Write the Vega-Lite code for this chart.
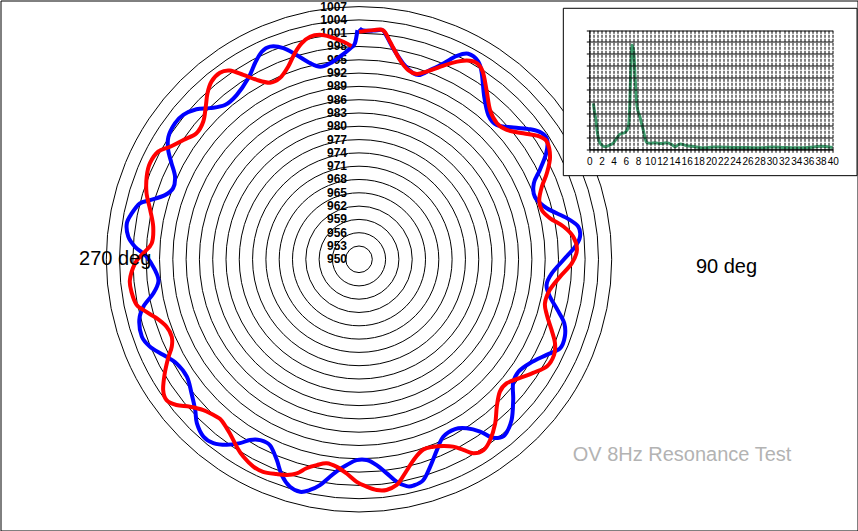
{
  "$schema": "https://vega.github.io/schema/vega-lite/v6.json",
  "width": 857,
  "height": 530,
  "padding": 0.5,
  "autosize": {"type": "none"},
  "background": "white",
  "config": {"font": "Liberation Sans", "view": {"stroke": "black", "strokeWidth": 1, "fill": "white"}},
  "datasets": {
    "rings": [{"ring":950},{"ring":953},{"ring":956},{"ring":959},{"ring":962},{"ring":965},{"ring":968},{"ring":971},{"ring":974},{"ring":977},{"ring":980},{"ring":983},{"ring":986},{"ring":989},{"ring":992},{"ring":995},{"ring":998},{"ring":1001},{"ring":1004},{"ring":1007}],
    "polar": [
      {"series":"Test 1","angle":0.1,"value":1002.1},{"series":"Test 1","angle":1.1,"value":1001.6},{"series":"Test 1","angle":3.6,"value":1001.7},{"series":"Test 1","angle":5.7,"value":1002.0},{"series":"Test 1","angle":6.6,"value":1001.3},{"series":"Test 1","angle":9.2,"value":998.2},{"series":"Test 1","angle":12.7,"value":995.3},{"series":"Test 1","angle":16.3,"value":993.7},{"series":"Test 1","angle":18.3,"value":993.8},{"series":"Test 1","angle":20.6,"value":995.6},{"series":"Test 1","angle":23.3,"value":998.1},{"series":"Test 1","angle":25.7,"value":1000.9},{"series":"Test 1","angle":28.0,"value":1002.5},{"series":"Test 1","angle":31.1,"value":1002.1},{"series":"Test 1","angle":33.4,"value":1000.3},{"series":"Test 1","angle":37.6,"value":996.3},{"series":"Test 1","angle":41.9,"value":993.7},{"series":"Test 1","angle":45.7,"value":993.4},{"series":"Test 1","angle":49.5,"value":995.8},{"series":"Test 1","angle":52.8,"value":998.5},{"series":"Test 1","angle":55.3,"value":1000.1},{"series":"Test 1","angle":57.6,"value":1000.3},{"series":"Test 1","angle":60.5,"value":998.5},{"series":"Test 1","angle":63.7,"value":995.5},{"series":"Test 1","angle":66.5,"value":993.0},{"series":"Test 1","angle":70.5,"value":992.1},{"series":"Test 1","angle":74.8,"value":993.9},{"series":"Test 1","angle":78.8,"value":997.8},{"series":"Test 1","angle":81.5,"value":1000.0},{"series":"Test 1","angle":84.2,"value":1000.1},{"series":"Test 1","angle":86.7,"value":998.8},{"series":"Test 1","angle":90.2,"value":996.1},{"series":"Test 1","angle":94.2,"value":993.6},{"series":"Test 1","angle":97.8,"value":992.7},{"series":"Test 1","angle":101.1,"value":993.9},{"series":"Test 1","angle":104.3,"value":996.2},{"series":"Test 1","angle":107.3,"value":998.5},{"series":"Test 1","angle":110.6,"value":999.6},{"series":"Test 1","angle":113.9,"value":999.6},{"series":"Test 1","angle":117.0,"value":997.5},{"series":"Test 1","angle":121.3,"value":995.1},{"series":"Test 1","angle":125.2,"value":994.0},{"series":"Test 1","angle":128.8,"value":994.6},{"series":"Test 1","angle":132.4,"value":997.1},{"series":"Test 1","angle":136.5,"value":1000.0},{"series":"Test 1","angle":140.3,"value":1001.5},{"series":"Test 1","angle":142.4,"value":1000.9},{"series":"Test 1","angle":143.6,"value":999.7},{"series":"Test 1","angle":144.9,"value":997.5},{"series":"Test 1","angle":147.5,"value":995.2},{"series":"Test 1","angle":150.5,"value":994.0},{"series":"Test 1","angle":154.6,"value":994.3},{"series":"Test 1","angle":157.8,"value":996.5},{"series":"Test 1","angle":161.1,"value":999.5},{"series":"Test 1","angle":163.8,"value":1001.9},{"series":"Test 1","angle":166.5,"value":1002.5},{"series":"Test 1","angle":168.1,"value":1002.3},{"series":"Test 1","angle":170.4,"value":1000.9},{"series":"Test 1","angle":172.6,"value":998.7},{"series":"Test 1","angle":175.1,"value":996.6},{"series":"Test 1","angle":177.8,"value":995.3},{"series":"Test 1","angle":180.7,"value":995.3},{"series":"Test 1","angle":183.4,"value":996.5},{"series":"Test 1","angle":185.6,"value":997.8},{"series":"Test 1","angle":187.6,"value":999.5},{"series":"Test 1","angle":189.8,"value":1001.7},{"series":"Test 1","angle":192.0,"value":1003.2},{"series":"Test 1","angle":194.2,"value":1004.1},{"series":"Test 1","angle":196.9,"value":1003.6},{"series":"Test 1","angle":199.7,"value":1001.7},{"series":"Test 1","angle":202.3,"value":998.9},{"series":"Test 1","angle":205.6,"value":996.5},{"series":"Test 1","angle":208.7,"value":996.5},{"series":"Test 1","angle":211.1,"value":997.6},{"series":"Test 1","angle":212.9,"value":999.4},{"series":"Test 1","angle":215.5,"value":1001.4},{"series":"Test 1","angle":218.4,"value":1002.9},{"series":"Test 1","angle":221.3,"value":1003.2},{"series":"Test 1","angle":224.7,"value":1002.0},{"series":"Test 1","angle":227.4,"value":1000.2},{"series":"Test 1","angle":231.3,"value":998.4},{"series":"Test 1","angle":235.7,"value":997.0},{"series":"Test 1","angle":240.3,"value":997.4},{"series":"Test 1","angle":243.9,"value":999.1},{"series":"Test 1","angle":247.3,"value":1001.1},{"series":"Test 1","angle":250.4,"value":1002.0},{"series":"Test 1","angle":254.6,"value":1001.4},{"series":"Test 1","angle":257.6,"value":999.8},{"series":"Test 1","angle":260.6,"value":997.0},{"series":"Test 1","angle":263.8,"value":995.5},{"series":"Test 1","angle":267.0,"value":996.1},{"series":"Test 1","angle":270.7,"value":997.9},{"series":"Test 1","angle":273.2,"value":1000.6},{"series":"Test 1","angle":275.6,"value":1002.3},{"series":"Test 1","angle":278.8,"value":1003.0},{"series":"Test 1","angle":281.4,"value":1002.3},{"series":"Test 1","angle":284.3,"value":1001.0},{"series":"Test 1","angle":285.8,"value":999.0},{"series":"Test 1","angle":288.3,"value":996.1},{"series":"Test 1","angle":290.9,"value":994.9},{"series":"Test 1","angle":294.2,"value":995.5},{"series":"Test 1","angle":297.1,"value":997.5},{"series":"Test 1","angle":299.8,"value":999.6},{"series":"Test 1","angle":302.7,"value":1001.1},{"series":"Test 1","angle":306.5,"value":1001.6},{"series":"Test 1","angle":309.4,"value":1001.3},{"series":"Test 1","angle":312.7,"value":999.9},{"series":"Test 1","angle":315.4,"value":997.9},{"series":"Test 1","angle":319.0,"value":996.1},{"series":"Test 1","angle":323.3,"value":996.2},{"series":"Test 1","angle":328.6,"value":997.9},{"series":"Test 1","angle":332.1,"value":1000.1},{"series":"Test 1","angle":334.9,"value":1001.7},{"series":"Test 1","angle":337.3,"value":1002.0},{"series":"Test 1","angle":340.3,"value":1000.6},{"series":"Test 1","angle":343.0,"value":998.2},{"series":"Test 1","angle":346.0,"value":995.6},{"series":"Test 1","angle":348.6,"value":994.3},{"series":"Test 1","angle":351.6,"value":994.7},{"series":"Test 1","angle":354.6,"value":995.9},{"series":"Test 1","angle":357.6,"value":997.6},{"series":"Test 1","angle":358.9,"value":998.7},{"series":"Test 1","angle":359.6,"value":1001.7},
      {"series":"Test 2","angle":0.0,"value":1001.3},{"series":"Test 2","angle":3.6,"value":1001.8},{"series":"Test 2","angle":6.1,"value":1001.9},{"series":"Test 2","angle":8.1,"value":999.6},{"series":"Test 2","angle":11.6,"value":995.9},{"series":"Test 2","angle":14.6,"value":994.1},{"series":"Test 2","angle":17.3,"value":993.8},{"series":"Test 2","angle":19.8,"value":995.0},{"series":"Test 2","angle":22.8,"value":997.1},{"series":"Test 2","angle":25.6,"value":999.2},{"series":"Test 2","angle":28.5,"value":1001.0},{"series":"Test 2","angle":31.0,"value":1001.6},{"series":"Test 2","angle":33.4,"value":1000.7},{"series":"Test 2","angle":37.0,"value":997.8},{"series":"Test 2","angle":41.3,"value":994.8},{"series":"Test 2","angle":45.4,"value":993.7},{"series":"Test 2","angle":48.8,"value":994.3},{"series":"Test 2","angle":52.5,"value":996.7},{"series":"Test 2","angle":55.5,"value":999.1},{"series":"Test 2","angle":57.9,"value":1000.0},{"series":"Test 2","angle":61.8,"value":998.9},{"series":"Test 2","angle":65.4,"value":996.6},{"series":"Test 2","angle":68.3,"value":994.4},{"series":"Test 2","angle":71.8,"value":992.8},{"series":"Test 2","angle":74.9,"value":992.7},{"series":"Test 2","angle":77.9,"value":994.1},{"series":"Test 2","angle":80.9,"value":996.7},{"series":"Test 2","angle":84.0,"value":998.6},{"series":"Test 2","angle":87.6,"value":999.2},{"series":"Test 2","angle":91.1,"value":998.0},{"series":"Test 2","angle":95.0,"value":995.5},{"series":"Test 2","angle":99.1,"value":993.6},{"series":"Test 2","angle":103.3,"value":993.1},{"series":"Test 2","angle":106.5,"value":994.2},{"series":"Test 2","angle":110.2,"value":996.3},{"series":"Test 2","angle":113.2,"value":998.1},{"series":"Test 2","angle":116.1,"value":999.0},{"series":"Test 2","angle":119.6,"value":998.8},{"series":"Test 2","angle":123.1,"value":996.9},{"series":"Test 2","angle":126.4,"value":995.1},{"series":"Test 2","angle":130.0,"value":993.5},{"series":"Test 2","angle":133.2,"value":993.6},{"series":"Test 2","angle":136.9,"value":995.5},{"series":"Test 2","angle":140.3,"value":998.1},{"series":"Test 2","angle":144.1,"value":1000.4},{"series":"Test 2","angle":146.9,"value":1001.4},{"series":"Test 2","angle":149.5,"value":1000.8},{"series":"Test 2","angle":151.3,"value":999.0},{"series":"Test 2","angle":153.3,"value":997.3},{"series":"Test 2","angle":155.7,"value":996.2},{"series":"Test 2","angle":158.4,"value":995.5},{"series":"Test 2","angle":161.3,"value":995.3},{"series":"Test 2","angle":164.3,"value":996.6},{"series":"Test 2","angle":167.2,"value":998.8},{"series":"Test 2","angle":168.9,"value":1000.3},{"series":"Test 2","angle":170.5,"value":1001.6},{"series":"Test 2","angle":173.2,"value":1002.4},{"series":"Test 2","angle":175.6,"value":1002.2},{"series":"Test 2","angle":178.1,"value":1001.3},{"series":"Test 2","angle":180.6,"value":1000.2},{"series":"Test 2","angle":183.3,"value":998.4},{"series":"Test 2","angle":186.1,"value":997.1},{"series":"Test 2","angle":189.0,"value":996.6},{"series":"Test 2","angle":191.6,"value":997.4},{"series":"Test 2","angle":194.1,"value":998.6},{"series":"Test 2","angle":196.2,"value":1000.3},{"series":"Test 2","angle":198.5,"value":1001.3},{"series":"Test 2","angle":201.0,"value":1001.9},{"series":"Test 2","angle":204.3,"value":1002.6},{"series":"Test 2","angle":207.0,"value":1002.5},{"series":"Test 2","angle":210.4,"value":1001.6},{"series":"Test 2","angle":213.1,"value":1000.5},{"series":"Test 2","angle":216.6,"value":998.9},{"series":"Test 2","angle":220.3,"value":997.8},{"series":"Test 2","angle":222.1,"value":997.9},{"series":"Test 2","angle":225.9,"value":998.9},{"series":"Test 2","angle":228.9,"value":1000.6},{"series":"Test 2","angle":231.4,"value":1002.7},{"series":"Test 2","angle":233.8,"value":1003.8},{"series":"Test 2","angle":236.3,"value":1003.1},{"series":"Test 2","angle":239.6,"value":1000.8},{"series":"Test 2","angle":242.6,"value":998.5},{"series":"Test 2","angle":245.0,"value":996.6},{"series":"Test 2","angle":247.6,"value":995.7},{"series":"Test 2","angle":250.7,"value":996.0},{"series":"Test 2","angle":253.7,"value":997.5},{"series":"Test 2","angle":256.8,"value":1000.0},{"series":"Test 2","angle":258.4,"value":1001.2},{"series":"Test 2","angle":261.5,"value":1001.8},{"series":"Test 2","angle":264.8,"value":1001.9},{"series":"Test 2","angle":269.0,"value":1000.5},{"series":"Test 2","angle":271.6,"value":998.7},{"series":"Test 2","angle":274.4,"value":996.9},{"series":"Test 2","angle":279.0,"value":997.0},{"series":"Test 2","angle":283.3,"value":998.4},{"series":"Test 2","angle":287.3,"value":1000.2},{"series":"Test 2","angle":291.3,"value":1001.4},{"series":"Test 2","angle":294.7,"value":1001.9},{"series":"Test 2","angle":298.2,"value":1001.4},{"series":"Test 2","angle":300.8,"value":999.6},{"series":"Test 2","angle":304.2,"value":997.9},{"series":"Test 2","angle":307.8,"value":996.4},{"series":"Test 2","angle":311.5,"value":996.9},{"series":"Test 2","angle":314.9,"value":998.8},{"series":"Test 2","angle":317.6,"value":1000.7},{"series":"Test 2","angle":320.3,"value":1002.1},{"series":"Test 2","angle":323.3,"value":1002.5},{"series":"Test 2","angle":325.6,"value":1001.6},{"series":"Test 2","angle":327.9,"value":999.1},{"series":"Test 2","angle":330.3,"value":996.6},{"series":"Test 2","angle":333.3,"value":994.6},{"series":"Test 2","angle":336.4,"value":994.6},{"series":"Test 2","angle":339.8,"value":996.3},{"series":"Test 2","angle":342.7,"value":998.7},{"series":"Test 2","angle":345.1,"value":1000.4},{"series":"Test 2","angle":347.6,"value":1001.4},{"series":"Test 2","angle":350.1,"value":1001.4},{"series":"Test 2","angle":352.6,"value":1000.6},{"series":"Test 2","angle":355.9,"value":999.2},{"series":"Test 2","angle":358.0,"value":998.1}
    ],
    "spectrum": [
      {"freq":0.67,"amp":3.85},{"freq":0.9,"amp":3.0},{"freq":1.1,"amp":2.4},{"freq":1.3,"amp":1.5},{"freq":1.5,"amp":0.9},{"freq":1.8,"amp":0.5},{"freq":2.1,"amp":0.33},{"freq":2.6,"amp":0.22},{"freq":3.4,"amp":0.36},{"freq":3.9,"amp":0.5},{"freq":4.5,"amp":0.92},{"freq":5.0,"amp":1.25},{"freq":5.9,"amp":1.42},{"freq":6.4,"amp":1.85},{"freq":6.6,"amp":3.0},{"freq":6.8,"amp":6.3},{"freq":7.0,"amp":8.75},{"freq":7.3,"amp":8.2},{"freq":7.55,"amp":5.8},{"freq":7.85,"amp":3.6},{"freq":8.3,"amp":2.75},{"freq":8.85,"amp":1.65},{"freq":9.4,"amp":0.6},{"freq":10.0,"amp":0.5},{"freq":10.8,"amp":0.55},{"freq":11.6,"amp":0.48},{"freq":12.7,"amp":0.55},{"freq":13.5,"amp":0.42},{"freq":14.1,"amp":0.22},{"freq":14.9,"amp":0.45},{"freq":16.0,"amp":0.3},{"freq":17.4,"amp":0.22},{"freq":18.7,"amp":0.12},{"freq":20.4,"amp":0.2},{"freq":22,"amp":0.18},{"freq":24,"amp":0.15},{"freq":26,"amp":0.15},{"freq":28,"amp":0.12},{"freq":30,"amp":0.2},{"freq":32,"amp":0.15},{"freq":34,"amp":0.12},{"freq":36,"amp":0.15},{"freq":38,"amp":0.25},{"freq":40,"amp":0.15}
    ],
    "notes": [
      {"label": "270 deg", "kind": "axis"},
      {"label": "90 deg", "kind": "axis"},
      {"label": "OV 8Hz Resonance Test", "kind": "title"}
    ]
  },
  "resolve": {"scale": {"x": "independent", "y": "independent"}, "axis": {"x": "independent", "y": "independent"}},
  "layer": [
    {
      "layer": [
        {
          "data": {"name": "rings"},
          "mark": {"type": "arc", "theta": 0, "theta2": 6.3, "fill": "transparent", "stroke": "black", "strokeWidth": 1},
          "encoding": {
            "x": {"datum": 0, "type": "quantitative", "scale": {"domain": [-80.87, 112.45], "nice": false, "zero": false}, "axis": null},
            "y": {"datum": 0, "type": "quantitative", "scale": {"domain": [-61.18, 58.38], "nice": false, "zero": false}, "axis": null},
            "radius": {"field": "ring", "type": "quantitative", "scale": {"type": "linear", "domain": [950, 1007], "range": [0, 252.7], "zero": false, "nice": false}},
            "radius2": {"datum": 950}
          }
        },
        {
          "data": {"name": "rings"},
          "mark": {"type": "text", "align": "right", "baseline": "middle", "dx": -12, "fontSize": 12, "fontWeight": "bold", "color": "black", "theta": 0},
          "encoding": {
            "x": {"datum": 0, "type": "quantitative", "scale": {"domain": [-80.87, 112.45], "nice": false, "zero": false}, "axis": null},
            "y": {"datum": 0, "type": "quantitative", "scale": {"domain": [-61.18, 58.38], "nice": false, "zero": false}, "axis": null},
            "radius": {"field": "ring", "type": "quantitative", "scale": {"type": "linear", "domain": [950, 1007], "range": [0, 252.7], "zero": false, "nice": false}},
            "text": {"field": "ring", "type": "quantitative"}
          }
        },
        {
          "data": {"name": "polar"},
          "transform": [
            {"filter": "datum.series === 'Test 1'"},
            {"calculate": "(datum.value - 950) * sin(datum.angle * PI / 180)", "as": "px"},
            {"calculate": "(datum.value - 950) * cos(datum.angle * PI / 180)", "as": "py"}
          ],
          "mark": {"type": "line", "color": "#0000ff", "strokeWidth": 4, "interpolate": "cardinal"},
          "encoding": {
            "x": {"field": "px", "type": "quantitative", "scale": {"domain": [-80.87, 112.45], "nice": false, "zero": false}, "axis": null},
            "y": {"field": "py", "type": "quantitative", "scale": {"domain": [-61.18, 58.38], "nice": false, "zero": false}, "axis": null},
            "order": {"field": "angle", "type": "quantitative"}
          }
        },
        {
          "data": {"name": "polar"},
          "transform": [
            {"filter": "datum.series === 'Test 2'"},
            {"calculate": "(datum.value - 950) * sin(datum.angle * PI / 180)", "as": "px"},
            {"calculate": "(datum.value - 950) * cos(datum.angle * PI / 180)", "as": "py"}
          ],
          "mark": {"type": "line", "color": "#ff0000", "strokeWidth": 4, "interpolate": "cardinal"},
          "encoding": {
            "x": {"field": "px", "type": "quantitative", "scale": {"domain": [-80.87, 112.45], "nice": false, "zero": false}, "axis": null},
            "y": {"field": "py", "type": "quantitative", "scale": {"domain": [-61.18, 58.38], "nice": false, "zero": false}, "axis": null},
            "order": {"field": "angle", "type": "quantitative"}
          }
        },
        {
          "data": {"name": "notes"},
          "transform": [{"filter": "datum.label === '270 deg'"}],
          "mark": {"type": "text", "fontSize": 20, "align": "center", "baseline": "middle", "color": "black"},
          "encoding": {
            "x": {"datum": -55.0, "type": "quantitative", "scale": {"domain": [-80.87, 112.45], "nice": false, "zero": false}, "axis": null},
            "y": {"datum": 0, "type": "quantitative", "scale": {"domain": [-61.18, 58.38], "nice": false, "zero": false}, "axis": null},
            "text": {"field": "label", "type": "nominal"}
          }
        },
        {
          "data": {"name": "notes"},
          "transform": [{"filter": "datum.label === '90 deg'"}],
          "mark": {"type": "text", "fontSize": 20, "align": "center", "baseline": "middle", "color": "black"},
          "encoding": {
            "x": {"datum": 82.9, "type": "quantitative", "scale": {"domain": [-80.87, 112.45], "nice": false, "zero": false}, "axis": null},
            "y": {"datum": -1.74, "type": "quantitative", "scale": {"domain": [-61.18, 58.38], "nice": false, "zero": false}, "axis": null},
            "text": {"field": "label", "type": "nominal"}
          }
        },
        {
          "data": {"name": "notes"},
          "transform": [{"filter": "datum.kind === 'title'"}],
          "mark": {"type": "text", "fontSize": 20, "align": "center", "baseline": "middle", "color": "#b3b3b3"},
          "encoding": {
            "x": {"datum": 72.86, "type": "quantitative", "scale": {"domain": [-80.87, 112.45], "nice": false, "zero": false}, "axis": null},
            "y": {"datum": -44.15, "type": "quantitative", "scale": {"domain": [-61.18, 58.38], "nice": false, "zero": false}, "axis": null},
            "text": {"field": "label", "type": "nominal"}
          }
        }
      ]
    },
    {
      "data": {"name": "notes"},
      "transform": [{"filter": "datum.kind === 'title'"}],
      "mark": {"type": "rect", "fill": "white", "stroke": "black", "strokeWidth": 1},
      "encoding": {
        "x": {"datum": -4.27, "type": "quantitative",
          "scale": {"domain": [0, 40], "range": [588.8, 832.2], "nice": false, "zero": false},
          "axis": {"orient": "top", "offset": -29.5, "title": null, "zindex": 1,
            "values": [0,0.6667,1.3333,2,2.6667,3.3333,4,4.6667,5.3333,6,6.6667,7.3333,8,8.6667,9.3333,10,10.6667,11.3333,12,12.6667,13.3333,14,14.6667,15.3333,16,16.6667,17.3333,18,18.6667,19.3333,20,20.6667,21.3333,22,22.6667,23.3333,24,24.6667,25.3333,26,26.6667,27.3333,28,28.6667,29.3333,30,30.6667,31.3333,32,32.6667,33.3333,34,34.6667,35.3333,36,36.6667,37.3333,38,38.6667,39.3333,40],
            "labels": false, "ticks": false, "domain": false,
            "grid": true, "gridColor": "black", "gridOpacity": 1, "gridDash": [3, 1]}},
        "x2": {"datum": 44.0},
        "y": {"datum": -2.21, "type": "quantitative",
          "scale": {"domain": [0, 10], "range": [148.8, 29.5], "nice": false, "zero": false},
          "axis": {"orient": "left", "offset": -588.8, "title": null, "labels": false, "zindex": 1,
            "values": [0,1,2,3,4,5,6,7,8,9,10],
            "domainColor": "black", "tickColor": "black", "tickSize": 3,
            "grid": true, "gridColor": "black", "gridOpacity": 1}},
        "y2": {"datum": 11.82}
      }
    },
    {
      "data": {"name": "spectrum"},
      "mark": {"type": "line", "color": "#3f9d6e", "strokeWidth": 3, "interpolate": "monotone"},
      "encoding": {
        "x": {
          "field": "freq", "type": "quantitative",
          "scale": {"domain": [0, 40], "range": [588.8, 832.2], "nice": false, "zero": false},
          "axis": {"orient": "bottom", "offset": -381.2, "title": null, "zindex": 1,
            "values": [0,0.6667,1.3333,2,2.6667,3.3333,4,4.6667,5.3333,6,6.6667,7.3333,8,8.6667,9.3333,10,10.6667,11.3333,12,12.6667,13.3333,14,14.6667,15.3333,16,16.6667,17.3333,18,18.6667,19.3333,20,20.6667,21.3333,22,22.6667,23.3333,24,24.6667,25.3333,26,26.6667,27.3333,28,28.6667,29.3333,30,30.6667,31.3333,32,32.6667,33.3333,34,34.6667,35.3333,36,36.6667,37.3333,38,38.6667,39.3333,40],
            "labelExpr": "abs(datum.value - round(datum.value)) < 0.01 ? format(round(datum.value), 'd') : ''",
            "labelFontSize": 10, "labelColor": "black", "labelPadding": 4, "labelOverlap": false, "labelFlush": false, "labelBound": false,
            "domainColor": "black", "tickColor": "black", "tickSize": 3, "grid": false}
        },
        "y": {
          "field": "amp", "type": "quantitative",
          "scale": {"domain": [0, 10], "range": [148.8, 29.5], "nice": false, "zero": false},
          "axis": null
        }
      }
    }
  ]
}
